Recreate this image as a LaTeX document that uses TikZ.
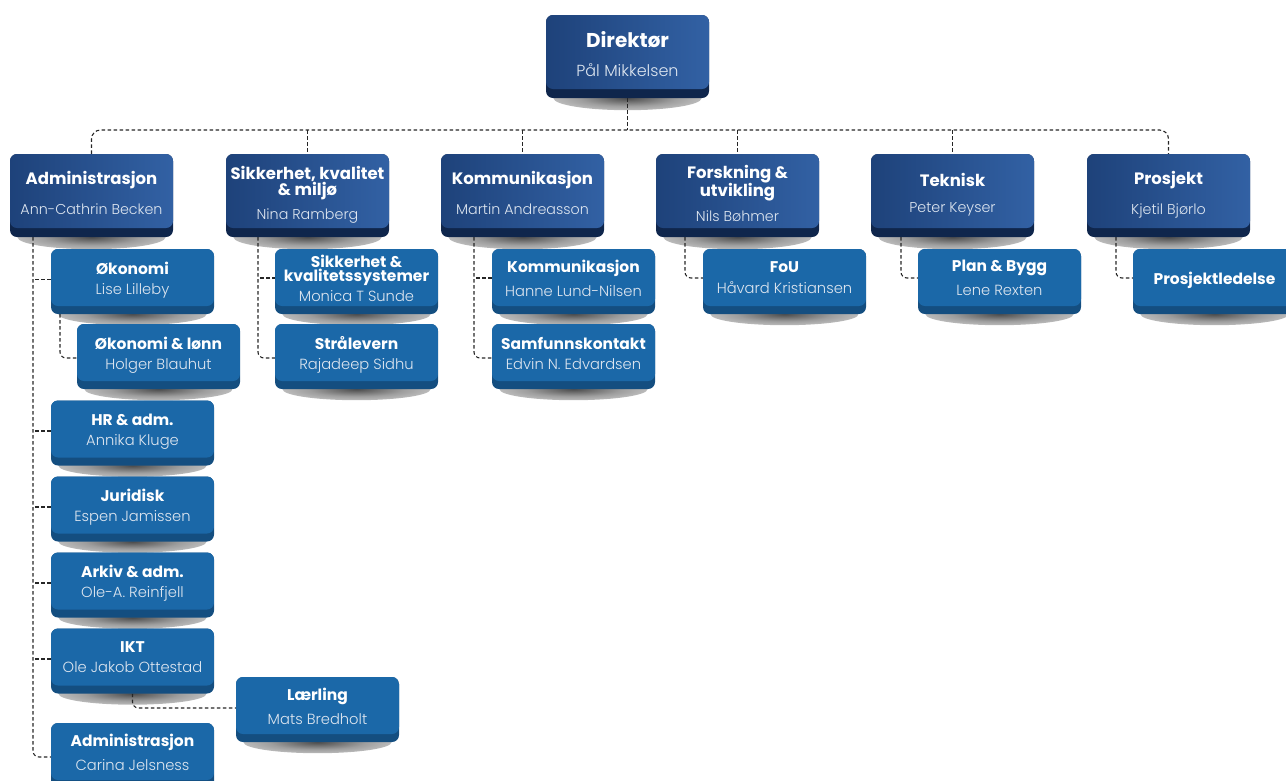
\documentclass[tikz,border=0pt]{standalone}
\usepackage{fontspec}
\setmainfont{Poppins}
\newfontfamily\lightf{Poppins Light}
\usetikzlibrary{calc,backgrounds}
\definecolor{dkL}{RGB}{30,66,122}
\definecolor{dkM}{RGB}{22,57,110}
\definecolor{dkR}{RGB}{50,97,164}
\definecolor{dkB}{RGB}{15,38,76}
\definecolor{sbM}{RGB}{27,104,168}
\definecolor{sbB}{RGB}{20,78,128}
\definecolor{nameC}{RGB}{222,230,240}
\pgfdeclareradialshading{boxshadow}{\pgfpoint{0bp}{0bp}}{color(0bp)=(black!70); color(16bp)=(black!38); color(46bp)=(white); color(50bp)=(white)}
\newcommand\dirt{\fontsize{20}{22}\selectfont\bfseries\color{white}}
\newcommand\dirn{\fontsize{16}{19}\selectfont\lightf\color{nameC}}
\newcommand\ft{\fontsize{16.5}{19}\selectfont\bfseries\color{white}}
\newcommand\fn{\fontsize{14.3}{18}\selectfont\lightf\color{nameC}}
\newcommand\st{\fontsize{15.5}{16}\selectfont\bfseries\color{white}}
\newcommand\sn{\fontsize{14.7}{17}\selectfont\lightf\color{nameC}}
\newcommand\up[1]{\rule[-#1pt]{0pt}{#1pt}}
\tikzset{
  dkbox/.style={rectangle, rounded corners=7pt, minimum width=163pt, minimum height=83pt,
    inner sep=0pt, fill=dkB, align=center,
    path picture={\shade[left color=dkL, middle color=dkM, right color=dkR, rounded corners=7pt]
      (path picture bounding box.north west) rectangle ([yshift=9pt]path picture bounding box.south east);}},
  subbox/.style={rectangle, rounded corners=7pt, minimum width=163pt, minimum height=65pt,
    inner sep=0pt, fill=sbB, align=center,
    path picture={\fill[sbM, rounded corners=7pt]
      (path picture bounding box.north west) rectangle ([yshift=8pt]path picture bounding box.south east);}},
  conn/.style={draw=black!85, line width=1.1pt, dash pattern=on 3.5pt off 2.5pt},
  shadowstyle/.style={shading=boxshadow}
}
\begin{document}
\begin{tikzpicture}[x=1pt,y=-1pt]
\useasboundingbox (0,0) rectangle (1286,780);
% boxes
\node[dkbox] (dir) at (627.5,56.5) {\dirt Direktør\\[15pt]\dirn Pål Mikkelsen\up{5}};
\node[dkbox] (d1) at (91.5,195.5) {\ft Administrasjon\\[14pt]\fn Ann-Cathrin Becken\up{5}};
\node[dkbox] (d2) at (307.5,195.5) {\ft Sikkerhet, kvalitet\\\ft\& miljø\\[8pt]\fn Nina Ramberg\up{5}};
\node[dkbox] (d3) at (522.5,195.5) {\ft Kommunikasjon\\[14pt]\fn Martin Andreasson\up{5}};
\node[dkbox] (d4) at (737.5,195.5) {\ft Forskning \&\\\ft utvikling\\[8pt]\fn Nils Bøhmer\up{5}};
\node[dkbox] (d5) at (952.5,195.5) {\ft Teknisk\\[14pt]\fn Peter Keyser\up{5}};
\node[dkbox] (d6) at (1168.5,195.5) {\ft Prosjekt\\[14pt]\fn Kjetil Bjørlo\up{5}};
%
\node[subbox] (oko) at (132.5,281.5) {\st Økonomi\\[8pt]\sn Lise Lilleby\up{7}};
\node[subbox] (okol) at (158.5,356.5) {\st Økonomi \& lønn\\[8pt]\sn Holger Blauhut\up{7}};
\node[subbox] (hr) at (132.5,433) {\st HR \& adm.\\[8pt]\sn Annika Kluge\up{7}};
\node[subbox] (jur) at (132.5,509) {\st Juridisk\\[8pt]\sn Espen Jamissen\up{7}};
\node[subbox] (ark) at (132.5,585) {\st Arkiv \& adm.\\[8pt]\sn Ole-A. Reinfjell\up{7}};
\node[subbox] (ikt) at (132.5,661) {\st IKT\\[8pt]\sn Ole Jakob Ottestad\up{7}};
\node[subbox] (laer) at (317.5,709.5) {\st Lærling\\[8pt]\sn Mats Bredholt\up{7}};
\node[subbox] (adm2) at (132.5,755.5) {\st Administrasjon\\[8pt]\sn Carina Jelsness\up{7}};
\node[subbox] (sik1) at (356.5,281.5) {\st Sikkerhet \&\\\st kvalitetssystemer\\[4pt]\sn Monica T Sunde\up{6}};
\node[subbox] (sik2) at (356.5,356.5) {\st Strålevern\\[8pt]\sn Rajadeep Sidhu\up{7}};
\node[subbox] (kom1) at (573.5,281.5) {\st Kommunikasjon\\[8pt]\sn Hanne Lund-Nilsen\up{7}};
\node[subbox] (kom2) at (573.5,356.5) {\st Samfunnskontakt\\[8pt]\sn Edvin N. Edvardsen\up{7}};
\node[subbox] (fou) at (784.5,281.5) {\st FoU\\[8pt]\sn Håvard Kristiansen\up{7}};
\node[subbox] (plan) at (999.5,281.5) {\st Plan \& Bygg\\[8pt]\sn Lene Rexten\up{7}};
\node[subbox] (prl) at (1214.5,281.5) {\st Prosjektledelse\up{7}};
% shadows and connectors behind the boxes
\begin{scope}[on background layer]
  \foreach \n in {dir,d1,d2,d3,d4,d5,d6}
    \shade[shadowstyle] ($(\n.south)+(0,0)$) ellipse [x radius=74pt, y radius=12pt];
  \foreach \n in {oko,okol,hr,jur,ark,ikt,laer,sik1,sik2,kom1,kom2,fou,plan,prl}
    \shade[shadowstyle] ($(\n.south)+(0,0)$) ellipse [x radius=74pt, y radius=11pt];
  \coordinate (bus) at (0,130);
  \coordinate (cA) at (33,0);
  \coordinate (cB) at (60,0);
  \coordinate (cS) at (258,0);
  \coordinate (cK) at (474,0);
  \coordinate (cF) at (685,0);
  \coordinate (cT) at (901,0);
  \coordinate (cP) at (1116,0);
  \draw[conn] (dir.south) -- (dir.south |- bus);
  \draw[conn, rounded corners=9pt] (d1.north) -- (d1.north |- bus) -- (d6.north |- bus) -- (d6.north);
  \foreach \n in {d2,d3,d4,d5} \draw[conn] (\n.north |- bus) -- (\n.north);
  % Administrasjon
  \draw[conn, rounded corners=6pt] (d1.south -| cA) |- ([yshift=-1.5pt]adm2.west);
  \foreach \n in {oko,hr,jur,ark,ikt} \draw[conn] ([xshift=2pt,yshift=2pt]\n.west -| cA) -- ([yshift=2pt]\n.west);
  \draw[conn, rounded corners=6pt] (oko.south -| cB) |- ([yshift=-1.5pt]okol.west);
  \draw[conn, rounded corners=6pt] (ikt.south) |- ([yshift=1.5pt]laer.west);
  % Sikkerhet
  \draw[conn, rounded corners=6pt] (d2.south -| cS) |- ([yshift=-1.5pt]sik2.west);
  \draw[conn] ([xshift=2pt,yshift=3.5pt]sik1.west -| cS) -- ([yshift=3.5pt]sik1.west);
  % Kommunikasjon
  \draw[conn, rounded corners=6pt] (d3.south -| cK) |- ([yshift=-1.5pt]kom2.west);
  \draw[conn] ([xshift=2pt,yshift=3.5pt]kom1.west -| cK) -- ([yshift=3.5pt]kom1.west);
  % FoU, Teknisk, Prosjekt
  \draw[conn, rounded corners=6pt] (d4.south -| cF) |- ([yshift=3.5pt]fou.west);
  \draw[conn, rounded corners=6pt] (d5.south -| cT) |- ([yshift=3.5pt]plan.west);
  \draw[conn, rounded corners=6pt] (d6.south -| cP) |- ([yshift=3.5pt]prl.west);
\end{scope}
\end{tikzpicture}
\end{document}
